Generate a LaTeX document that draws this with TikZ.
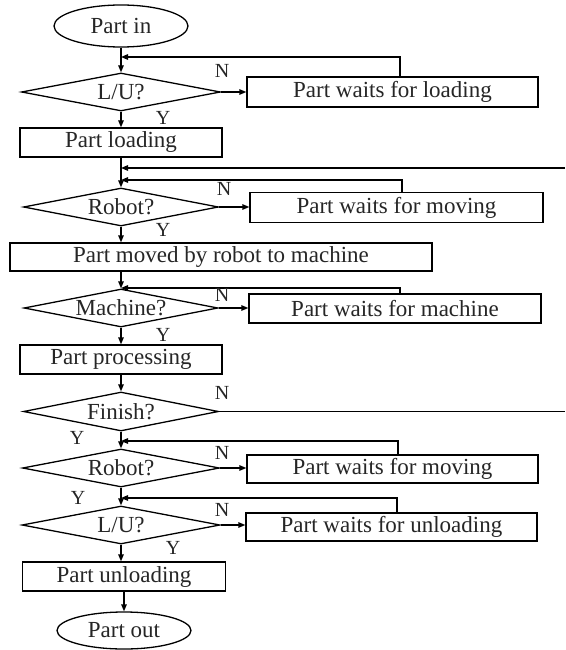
\documentclass[tikz,border=0pt]{standalone}
\usepackage{fontspec}
\setmainfont{Liberation Serif}
\usetikzlibrary{shapes.geometric,arrows.meta}
\begin{document}
\begin{tikzpicture}[x=1pt,y=-1pt,
  every node/.style={font=\fontsize{23}{26}\selectfont, inner sep=0pt, text=black!85},
  procbox/.style={draw, rectangle, line width=1.3pt},
  decbox/.style={draw, diamond, aspect=5, line width=1.3pt},
  termbox/.style={draw, ellipse, line width=1.3pt},
  lbl/.style={font=\fontsize{20}{22}\selectfont},
  conn/.style={line width=1.3pt},
  arr/.style={conn, -{Triangle[length=7pt,width=5.5pt]}}]
\useasboundingbox (0,0) rectangle (565,650);
\fill[white] (0,0) rectangle (565,650);

% nodes
\node[termbox, minimum width=134pt, minimum height=42pt] (pin) at (121,26) {Part in};
\node[decbox, minimum width=199pt, minimum height=38pt] (lu1) at (121,92) {L/U?};
\node[procbox, minimum width=291pt, minimum height=30pt] (wl) at (392.5,92) {Part waits for loading};
\node[procbox, minimum width=202pt, minimum height=29pt] (pl) at (121,142.5) {Part loading};
\node[decbox, minimum width=195pt, minimum height=38pt] (rb1) at (121,207) {Robot?};
\node[procbox, minimum width=293pt, minimum height=30pt] (wm1) at (396.5,207.5) {Part waits for moving};
\node[procbox, minimum width=422pt, minimum height=28pt] (pm) at (221,257) {Part moved by robot to machine};
\node[decbox, minimum width=194pt, minimum height=38pt] (mc) at (121,308) {Machine?};
\node[procbox, minimum width=292pt, minimum height=29pt] (wmc) at (395,308.5) {Part waits for machine};
\node[procbox, minimum width=202pt, minimum height=29pt] (pp) at (121,359.5) {Part processing};
\node[decbox, minimum width=195pt, minimum height=39pt] (fin) at (121,411.5) {Finish?};
\node[decbox, minimum width=197pt, minimum height=38pt] (rb2) at (121,468) {Robot?};
\node[procbox, minimum width=291pt, minimum height=28pt] (wm2) at (392.5,469) {Part waits for moving};
\node[decbox, minimum width=198pt, minimum height=38pt] (lu2) at (121,525) {L/U?};
\node[procbox, minimum width=291pt, minimum height=28pt] (wu) at (391.5,527) {Part waits for unloading};
\node[procbox, minimum width=203pt, minimum height=29pt] (pu) at (124,576.5) {Part unloading};
\node[termbox, minimum width=134pt, minimum height=37pt] (pout) at (124,630.5) {Part out};

% coordinates for free ends / bends
\coordinate (f1) at (400,57);
\coordinate (r1) at (565,168);
\coordinate (f2) at (402,180);
\coordinate (f3) at (400,288);
\coordinate (r2) at (565,411.5);
\coordinate (f4) at (398,441);
\coordinate (f5) at (397,498);

% main column
\draw[arr] (pin.south) -- (pin.south |- lu1.north);
\draw[arr] (lu1.south) -- (lu1.south |- pl.north);
\draw[arr] (rb1.north |- pl.south) -- (rb1.north);
\draw[arr] (rb1.south) -- (rb1.south |- pm.north);
\draw[arr] (mc.north |- pm.south) -- (mc.north);
\draw[arr] (mc.south) -- (mc.south |- pp.north);
\draw[arr] (pp.south) -- (pp.south |- fin.north);
\draw[arr] (fin.south) -- (fin.south |- rb2.north);
\draw[arr] (rb2.south) -- (rb2.south |- lu2.north);
\draw[arr] (lu2.south) -- (lu2.south |- pu.north);
\draw[arr] (pout.north |- pu.south) -- (pout.north);

% N branches
\draw[arr] (lu1.east) -- (lu1.east -| wl.west);
\draw[arr] (rb1.east) -- (rb1.east -| wm1.west);
\draw[arr] (mc.east) -- (mc.east -| wmc.west);
\draw[conn] (fin.east) -- (fin.east -| r2);
\draw[arr] (rb2.east) -- (rb2.east -| wm2.west);
\draw[arr] (lu2.east) -- (lu2.east -| wu.west);

% feedback loops
\draw[arr] (wl.north -| f1) -- (f1) -- (f1 -| pin.south);
\draw[arr] (r1) -- (r1 -| rb1.north);
\draw[arr] (wm1.north -| f2) -- (f2) -- (f2 -| rb1.north);
\draw[arr] (wmc.north -| f3) -- (f3) -- (f3 -| mc.north);
\draw[arr] (wm2.north -| f4) -- (f4) -- (f4 -| rb2.north);
\draw[arr] (wu.north -| f5) -- (f5) -- (f5 -| lu2.north);

% labels
\node[lbl] (n1) at (222,71) {N};
\node[lbl] (y1) at (163,118) {Y};
\node[lbl] (n2) at (224,189) {N};
\node[lbl] (y2) at (163,230) {Y};
\node[lbl] (n3) at (222,295) {N};
\node[lbl] (y3) at (163,335) {Y};
\node[lbl] (n4) at (222,393) {N};
\node[lbl] (y4) at (77,438) {Y};
\node[lbl] (n5) at (222,453) {N};
\node[lbl] (y5) at (78,498) {Y};
\node[lbl] (n6) at (222,510) {N};
\node[lbl] (y6) at (173,548) {Y};
\end{tikzpicture}
\end{document}
